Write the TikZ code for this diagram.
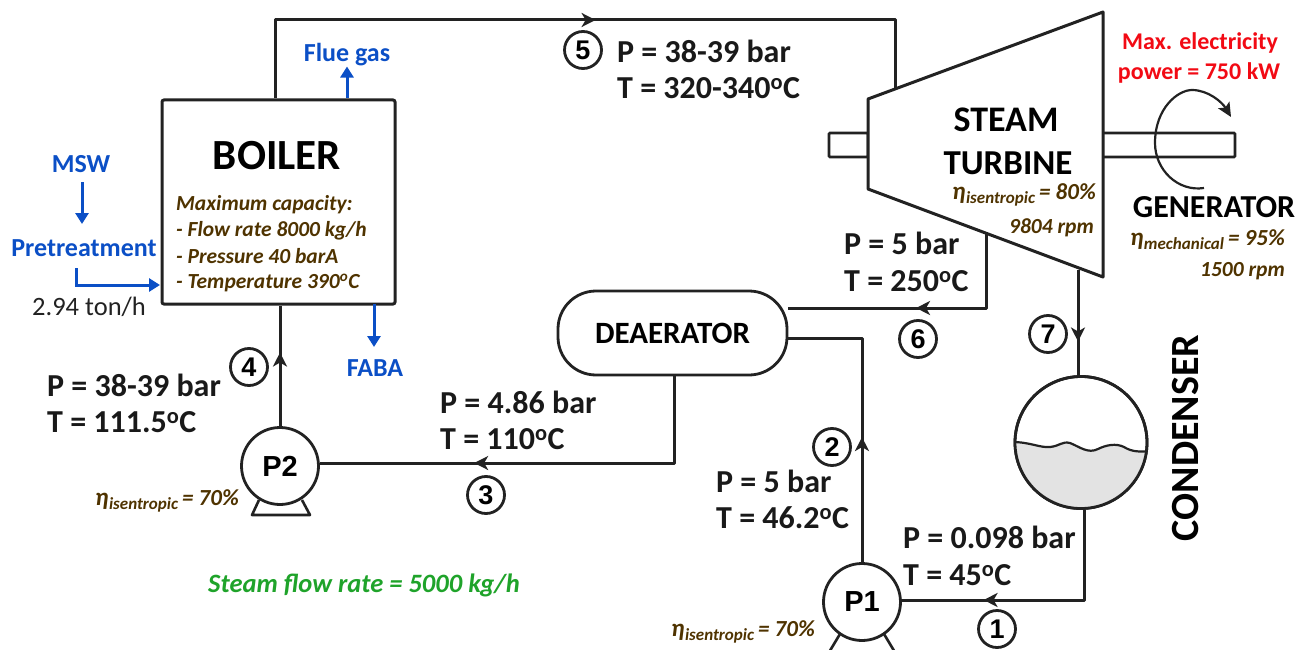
\documentclass[tikz,border=0pt]{standalone}
\usepackage{fontspec}
\setmainfont{Carlito}
\newfontfamily\sansbold{Liberation Sans}
\usetikzlibrary{arrows.meta,decorations.markings,calc}
\definecolor{ink}{HTML}{222222}
\definecolor{brownish}{HTML}{4F3300}
\definecolor{blueish}{HTML}{0B4FC6}
\definecolor{greenish}{HTML}{1FA32A}
\definecolor{reddish}{HTML}{F20A14}
\newcommand{\fs}[1]{\fontsize{#1}{#1}\selectfont}
\newcommand{\dg}{\textsuperscript{o}}
\newcommand{\etatxt}[2]{{\fs{25}η}\kern0.5pt\raisebox{-4pt}{\fs{17}#1}\kern4pt{\fs{23}= #2\%}}
\tikzset{
  x=1pt,y=-1pt,
  pipe/.style={draw=ink,line width=3pt,line join=round},
  head/.style={postaction={decorate},decoration={markings,mark=at position #1 with {\arrow{Stealth[length=14pt,width=14pt,inset=4pt]}}}},
  bluearrow/.style={draw=blueish,line width=3pt,-{Triangle[length=11pt,width=13pt]}},
  state/.style={font=\bfseries\fs{32},text=black!90,align=left,anchor=west,inner sep=0pt},
  bluetext/.style={font=\bfseries\fs{26},text=blueish,inner sep=0pt},
  browntext/.style={font=\bfseries\itshape\fs{21.5},text=brownish,inner sep=0pt},
  num/.style={circle,draw=ink,line width=2.8pt,minimum size=37pt,inner sep=0pt,font=\sansbold\bfseries\fs{27}},
  pump/.style={circle,draw=ink,line width=2.8pt,fill=white,minimum size=77pt,inner sep=0pt,font=\sansbold\bfseries\fs{29}},
  label/.style={font=\bfseries\fs{36},text=black,inner sep=0pt},
}
\begin{document}
\begin{tikzpicture}
\useasboundingbox (0,0) rectangle (1298,650);
% equipment
\node[draw=ink,line width=3pt,minimum width=233pt,minimum height=204pt,inner sep=0pt,rounded corners=2pt] (boiler) at (278.5,202) {};
\node[draw=ink,line width=2.8pt,minimum width=229pt,minimum height=84pt,inner sep=0pt,rounded corners=38pt,font=\bfseries\fs{31}] (deaerator) at (672.5,333) {DEAERATOR};
\node[pump] (p2) at (280,466) {P2};
\node[pump] (p1) at (862,602) {P1};
\node[circle,draw=ink,line width=2.8pt,minimum size=132pt,inner sep=0pt] (condenser) at (1081,442.5) {};
% condenser liquid
\begin{scope}
\clip (condenser.center) circle (66);
\fill[gray!22] (1012,442) .. controls (1030,442) and (1040,448) .. (1050,447)
  .. controls (1060,446) and (1062,441) .. (1070,443)
  .. controls (1080,447) and (1088,454) .. (1098,449)
  .. controls (1106,445) and (1116,443) .. (1124,447)
  .. controls (1132,452) and (1140,452) .. (1150,451)
  -- (1150,520) -- (1012,520) -- cycle;
\draw[ink,line width=2.2pt] (1012,442) .. controls (1030,442) and (1040,448) .. (1050,447)
  .. controls (1060,446) and (1062,441) .. (1070,443)
  .. controls (1080,447) and (1088,454) .. (1098,449)
  .. controls (1106,445) and (1116,443) .. (1124,447)
  .. controls (1132,452) and (1140,452) .. (1150,451);
\end{scope}
\node[circle,draw=ink,line width=2.8pt,minimum size=132pt,inner sep=0pt] at (condenser.center) {};
% turbine
\coordinate (tA) at (868,99);
\coordinate (tB) at (1103,12);
\coordinate (tC) at (1103,277);
\coordinate (tD) at (868,189);
\draw[ink,line width=2.8pt,rounded corners=1pt] (829,133) rectangle (868,157);
\draw[ink,line width=2.8pt,rounded corners=1pt] (1103,133) -- (1235,133) -- (1235,157) -- (1103,157);
\draw[ink,line width=3pt,line join=round,fill=white] (tA) -- (tB) -- (tC) -- (tD) -- cycle;
% rotation arrow
\coordinate (rotS) at (1204,188);
\coordinate (rotE) at (1231,117);
\draw[ink,line width=2.2pt,-{Stealth[length=14pt,width=13pt,inset=3pt]}] (rotS) .. controls (1178,192) and (1155,170) .. (1155,143)
  .. controls (1155,108) and (1178,90) .. (1192,90) .. controls (1208,90) and (1222,102) .. (rotE);
% pump legs
\draw[ink,line width=2.6pt,line join=round] (259,500) -- (252,515) -- (310,515) -- (302,500);
\draw[ink,line width=2.6pt,line join=round] (840,634) -- (828,654) -- (896,654) -- (884,634);
% pipe connector anchors
\coordinate (steamTop1) at (275,20);
\coordinate (steamTop2) at (895,20);
\coordinate (steamEnd) at (895,89);
\coordinate (ex6a) at (986,234);
\coordinate (ex6b) at (986,308);
\coordinate (ex7) at (1078,270);
\coordinate (condOut) at (1084,600);
\coordinate (deaBot) at (674,463);
\coordinate (p1Top) at (862,338);
% pipes
\draw[pipe,head=0.52] (boiler.north -| steamTop1) -- (steamTop1) -- (steamTop2) -- (steamEnd);
\draw[pipe,head=0.53] (ex6a) -- (ex6b) -- (ex6b -| deaerator.east);
\draw[pipe,head=0.68] (ex7) -- (ex7 |- condenser.north);
\draw[pipe,head=0.70] (condOut |- condenser.south) -- (condOut) -- (condOut -| p1.east);
\draw[pipe,head=0.42] (p1.north) -- (p1Top) -- (p1Top -| deaerator.east);
\draw[pipe,head=0.65] (deaBot |- deaerator.south) -- (deaBot) -- (deaBot -| p2.east);
\draw[pipe,head=0.61] (p2.north) -- (p2.north |- boiler.south);
% boiler text
\node[font=\bfseries\fs{43},inner sep=0pt] (boilerT) at (277,156) {BOILER};
\node[browntext,anchor=west,align=left] (cap) at (176,205) {Maximum capacity:};
\node[browntext,anchor=west] (cap1) at (176,231) {- Flow rate 8000 kg/h};
\node[browntext,anchor=west] (cap2) at (176,256) {- Pressure 40 barA};
\node[browntext,anchor=west] (cap3) at (176,283) {- Temperature 390\textsuperscript{o}C};
% feed
\node[bluetext] (msw) at (81,164) {MSW};
\node[bluetext] (pre) at (84,248) {Pretreatment};
\node[font=\fs{26.5},text=ink,inner sep=0pt] (rate) at (89,306.5) {2.94 ton/h};
\coordinate (preS) at (76,268);
\coordinate (preM) at (76,285);
\draw[bluearrow] (82,182) -- (82,224);
\draw[draw=blueish,line width=3pt,line join=miter,-{Triangle[length=11pt,width=13pt]}] (preS) -- (preM) -- (160,285);
\node[bluetext] (flue) at (347,55) {Flue gas};
\node[bluetext] (faba) at (375,368) {FABA};
\draw[bluearrow] (flue.south |- boiler.north) -- (flue.south);
\draw[bluearrow] (374,304) -- (374,347);
% state labels
\node[state] (s5a) at (617,51) {P = 38-39 bar};
\node[state] (s5b) at (617,88) {T = 320-340\dg C};
\node[state] (s4a) at (47,385) {P = 38-39 bar};
\node[state] (s4b) at (47,422) {T = 111.5\dg C};
\node[state] (s3a) at (440,402) {P = 4.86 bar};
\node[state] (s3b) at (440,439) {T = 110\dg C};
\node[state] (s2a) at (716,481) {P = 5 bar};
\node[state] (s2b) at (716,518) {T = 46.2\dg C};
\node[state] (s1a) at (903,537) {P = 0.098 bar};
\node[state] (s1b) at (903,575) {T = 45\dg C};
\node[state] (s6a) at (844,243) {P = 5 bar};
\node[state] (s6b) at (844,281) {T = 250\dg C};
% numbers
\node[num] (n5) at (583,50) {5};
\node[num] (n4) at (249,367) {4};
\node[num] (n3) at (486,495) {3};
\node[num] (n2) at (832,447) {2};
\node[num] (n1) at (997,629) {1};
\node[num] (n6) at (918,339) {6};
\node[num] (n7) at (1048,334) {7};
% turbine text
\node[label] (st1) at (1006,120) {STEAM};
\node[label,font=\bfseries\fs{35}] (st2) at (1008,163) {TURBINE};
\node[browntext,anchor=east] (eta1) at (1096,195) {\etatxt{isentropic}{80}};
\node[browntext,anchor=east] (rpm1) at (1094,228) {9804 rpm};
\node[font=\bfseries\fs{32},text=black,inner sep=0pt] (gen) at (1214,207) {GENERATOR};
\node[browntext,anchor=east] (eta2) at (1285,240) {\etatxt{mechanical}{95}};
\node[browntext,anchor=east] (rpm2) at (1285,271) {1500 rpm};
\node[font=\bfseries\fs{24},text=reddish,inner sep=0pt] (pw1) at (1200,43) {Max. electricity};
\node[font=\bfseries\fs{24},text=reddish,inner sep=0pt] (pw2) at (1199,73) {power = 750 kW};
\node[label,font=\bfseries\fs{40},rotate=90] (cond) at (1186,438) {CONDENSER};
% pump text
\node[browntext,anchor=east] (eta3) at (239,501) {\etatxt{isentropic}{70}};
\node[browntext,anchor=east] (eta4) at (815,632) {\etatxt{isentropic}{70}};
\node[font=\bfseries\itshape\fs{26.5},text=greenish,inner sep=0pt] (flow) at (364,585) {Steam flow rate = 5000 kg/h};
\end{tikzpicture}
\end{document}
